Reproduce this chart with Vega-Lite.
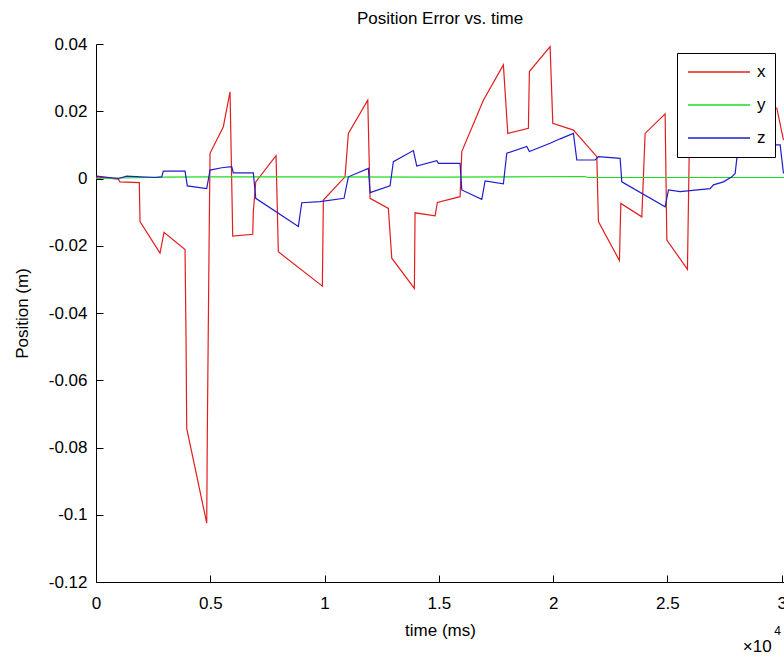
{
  "$schema": "https://vega.github.io/schema/vega-lite/v6.json",
  "width": 688,
  "height": 538,
  "autosize": {"type": "none"},
  "padding": {"left": 96, "top": 44, "right": 0, "bottom": 76},
  "background": "white",
  "title": {"text": "Position Error vs. time", "fontSize": 17, "fontWeight": "normal", "font": "Liberation Sans", "color": "black", "offset": 7, "anchor": "middle"},
  "config": {
    "view": {"stroke": null},
    "font": "Liberation Sans",
    "axis": {
      "domainColor": "black", "tickColor": "black", "labelColor": "black", "titleColor": "black",
      "labelFont": "Liberation Sans", "titleFont": "Liberation Sans",
      "labelFontSize": 17, "titleFontSize": 17, "titleFontWeight": "normal",
      "grid": false, "tickSize": -7, "domainWidth": 1, "tickWidth": 1
    }
  },
  "datasets": {
    "series": [
      {"t": 0, "v": 0.0003, "s": "x"}, {"t": 30, "v": 0.0005, "s": "x"}, {"t": 976, "v": -0.0002, "s": "x"}, {"t": 1050, "v": -0.001, "s": "x"},
      {"t": 1895, "v": -0.0012, "s": "x"}, {"t": 1925, "v": -0.0128, "s": "x"}, {"t": 2801, "v": -0.0222, "s": "x"}, {"t": 2976, "v": -0.016, "s": "x"},
      {"t": 3895, "v": -0.0211, "s": "x"}, {"t": 3938, "v": -0.047, "s": "x"}, {"t": 3969, "v": -0.0743, "s": "x"}, {"t": 4844, "v": -0.1025, "s": "x"},
      {"t": 4870, "v": -0.0758, "s": "x"}, {"t": 4945, "v": -0.0213, "s": "x"}, {"t": 4989, "v": 0.0075, "s": "x"}, {"t": 5571, "v": 0.0154, "s": "x"},
      {"t": 5864, "v": 0.0258, "s": "x"}, {"t": 5982, "v": -0.0171, "s": "x"}, {"t": 6857, "v": -0.0166, "s": "x"}, {"t": 6883, "v": -0.0099, "s": "x"},
      {"t": 6989, "v": -0.001, "s": "x"}, {"t": 7877, "v": 0.0068, "s": "x"}, {"t": 7977, "v": -0.0218, "s": "x"}, {"t": 9903, "v": -0.032, "s": "x"},
      {"t": 9947, "v": -0.0064, "s": "x"}, {"t": 10896, "v": 0.0005, "s": "x"}, {"t": 11041, "v": 0.0134, "s": "x"}, {"t": 11890, "v": 0.0233, "s": "x"},
      {"t": 11990, "v": -0.0059, "s": "x"}, {"t": 12791, "v": -0.0089, "s": "x"}, {"t": 12940, "v": -0.0237, "s": "x"}, {"t": 13929, "v": -0.0327, "s": "x"},
      {"t": 13959, "v": -0.0102, "s": "x"}, {"t": 14835, "v": -0.0111, "s": "x"}, {"t": 14935, "v": -0.0071, "s": "x"}, {"t": 15929, "v": -0.0054, "s": "x"},
      {"t": 16003, "v": 0.008, "s": "x"}, {"t": 16948, "v": 0.0233, "s": "x"}, {"t": 17823, "v": 0.0338, "s": "x"}, {"t": 18016, "v": 0.0134, "s": "x"},
      {"t": 18917, "v": 0.0149, "s": "x"}, {"t": 18961, "v": 0.0318, "s": "x"}, {"t": 19867, "v": 0.0392, "s": "x"}, {"t": 19985, "v": 0.0164, "s": "x"},
      {"t": 20887, "v": 0.0144, "s": "x"}, {"t": 21911, "v": 0.0065, "s": "x"}, {"t": 21981, "v": -0.0128, "s": "x"}, {"t": 22900, "v": -0.0244, "s": "x"},
      {"t": 22961, "v": -0.0074, "s": "x"}, {"t": 23880, "v": -0.0114, "s": "x"}, {"t": 24024, "v": 0.0134, "s": "x"}, {"t": 24899, "v": 0.0192, "s": "x"},
      {"t": 24974, "v": -0.0183, "s": "x"}, {"t": 25875, "v": -0.027, "s": "x"}, {"t": 25963, "v": 0.012, "s": "x"}, {"t": 27000, "v": 0.022, "s": "x"},
      {"t": 27050, "v": 0.009, "s": "x"}, {"t": 28500, "v": 0.012, "s": "x"}, {"t": 28550, "v": 0.025, "s": "x"}, {"t": 29700, "v": 0.021, "s": "x"},
      {"t": 29787, "v": 0.0209, "s": "x"}, {"t": 30077, "v": 0.0114, "s": "x"},

      {"t": 0, "v": 0.0, "s": "y"}, {"t": 2875, "v": 0.0004, "s": "y"}, {"t": 5000, "v": 0.0005, "s": "y"}, {"t": 9000, "v": 0.0005, "s": "y"},
      {"t": 15000, "v": 0.0004, "s": "y"}, {"t": 21400, "v": 0.0006, "s": "y"}, {"t": 21500, "v": 0.0003, "s": "y"}, {"t": 30100, "v": 0.0003, "s": "y"},

      {"t": 0, "v": 0.0005, "s": "z"}, {"t": 30, "v": 0.0007, "s": "z"}, {"t": 976, "v": 0.0, "s": "z"}, {"t": 1343, "v": 0.0007, "s": "z"},
      {"t": 2582, "v": 0.0003, "s": "z"}, {"t": 2875, "v": 0.0005, "s": "z"}, {"t": 2945, "v": 0.0022, "s": "z"}, {"t": 3895, "v": 0.0022, "s": "z"},
      {"t": 3995, "v": -0.0022, "s": "z"}, {"t": 4844, "v": -0.003, "s": "z"}, {"t": 4989, "v": 0.0025, "s": "z"}, {"t": 5501, "v": 0.0032, "s": "z"},
      {"t": 5938, "v": 0.0035, "s": "z"}, {"t": 6008, "v": 0.0017, "s": "z"}, {"t": 6883, "v": 0.0017, "s": "z"}, {"t": 6989, "v": -0.0059, "s": "z"},
      {"t": 8853, "v": -0.0143, "s": "z"}, {"t": 9001, "v": -0.0072, "s": "z"}, {"t": 9802, "v": -0.0069, "s": "z"}, {"t": 10852, "v": -0.0059, "s": "z"},
      {"t": 11041, "v": 0.0005, "s": "z"}, {"t": 11916, "v": 0.003, "s": "z"}, {"t": 11990, "v": -0.0042, "s": "z"}, {"t": 12865, "v": -0.0022, "s": "z"},
      {"t": 13010, "v": 0.005, "s": "z"}, {"t": 13885, "v": 0.0083, "s": "z"}, {"t": 14034, "v": 0.0037, "s": "z"}, {"t": 14909, "v": 0.0053, "s": "z"},
      {"t": 14979, "v": 0.0045, "s": "z"}, {"t": 15929, "v": 0.0045, "s": "z"}, {"t": 16003, "v": -0.0034, "s": "z"}, {"t": 16878, "v": -0.0062, "s": "z"},
      {"t": 17023, "v": -0.0007, "s": "z"}, {"t": 17823, "v": -0.0016, "s": "z"}, {"t": 17972, "v": 0.0075, "s": "z"}, {"t": 18847, "v": 0.0095, "s": "z"},
      {"t": 18961, "v": 0.008, "s": "z"}, {"t": 19867, "v": 0.0105, "s": "z"}, {"t": 20305, "v": 0.0118, "s": "z"}, {"t": 20887, "v": 0.0134, "s": "z"},
      {"t": 21035, "v": 0.0055, "s": "z"}, {"t": 21836, "v": 0.0055, "s": "z"}, {"t": 21981, "v": 0.0065, "s": "z"}, {"t": 22930, "v": 0.006, "s": "z"},
      {"t": 23004, "v": -0.001, "s": "z"}, {"t": 24899, "v": -0.0084, "s": "z"}, {"t": 25045, "v": -0.0034, "s": "z"}, {"t": 25556, "v": -0.0039, "s": "z"},
      {"t": 25993, "v": -0.0036, "s": "z"}, {"t": 26868, "v": -0.003, "s": "z"}, {"t": 27014, "v": -0.0019, "s": "z"}, {"t": 27451, "v": -0.001, "s": "z"},
      {"t": 27818, "v": 0.0005, "s": "z"}, {"t": 27963, "v": 0.0015, "s": "z"}, {"t": 28037, "v": 0.006, "s": "z"}, {"t": 28400, "v": 0.009, "s": "z"},
      {"t": 29500, "v": 0.01, "s": "z"}, {"t": 29787, "v": 0.01, "s": "z"}, {"t": 29932, "v": 0.01, "s": "z"}, {"t": 30077, "v": 0.0015, "s": "z"}
    ],
    "exponent": [{"t": 30000, "v": -0.12, "base": "×10", "exp": "4"}]
  },
  "layer": [
    {
      "data": {"name": "series"},
      "mark": {"type": "line", "strokeWidth": 1.2, "clip": true},
      "encoding": {
        "x": {"field": "t", "type": "quantitative",
              "scale": {"domain": [0, 30100], "nice": false, "zero": false},
              "axis": {"title": "time (ms)", "values": [0, 5000, 10000, 15000, 20000, 25000, 30000],
                       "labelExpr": "'' + datum.value / 10000", "labelPadding": 20, "labelFlush": false,
                       "labelOverlap": false, "titlePadding": 11}},
        "y": {"field": "v", "type": "quantitative",
              "scale": {"domain": [-0.12, 0.04], "nice": false, "zero": false},
              "axis": {"title": "Position (m)", "values": [-0.12, -0.1, -0.08, -0.06, -0.04, -0.02, 0, 0.02, 0.04],
                       "labelExpr": "'' + datum.value", "labelPadding": 16, "labelOverlap": false, "titlePadding": 17}},
        "color": {"field": "s", "type": "nominal",
                  "scale": {"domain": ["x", "y", "z"], "range": ["#e01e1e", "#1edc1e", "#1e1ecc"]},
                  "legend": {"title": null, "orient": "top-right", "offset": 9,
                             "symbolType": "stroke", "symbolSize": 3844, "symbolStrokeWidth": 1.4, "symbolOffset": 1,
                             "clipHeight": 20,
                             "labelFontSize": 17, "labelColor": "black", "labelOffset": 6,
                             "strokeColor": "black", "fillColor": "white", "padding": 9, "rowPadding": 13}}
      }
    },
    {
      "data": {"name": "exponent"},
      "mark": {"type": "text", "align": "right", "baseline": "middle", "dx": -10, "dy": 65, "fontSize": 17, "color": "black"},
      "encoding": {
        "x": {"field": "t", "type": "quantitative"},
        "y": {"field": "v", "type": "quantitative"},
        "text": {"field": "base"}
      }
    },
    {
      "data": {"name": "exponent"},
      "mark": {"type": "text", "align": "center", "baseline": "middle", "dx": -4, "dy": 49, "fontSize": 12, "color": "black"},
      "encoding": {
        "x": {"field": "t", "type": "quantitative"},
        "y": {"field": "v", "type": "quantitative"},
        "text": {"field": "exp"}
      }
    }
  ]
}
